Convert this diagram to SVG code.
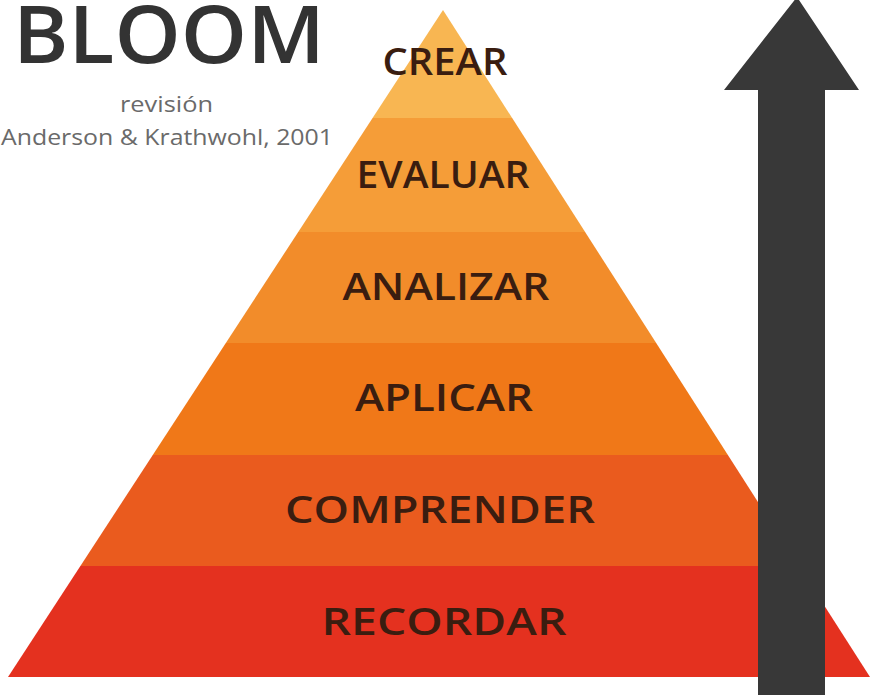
<svg xmlns="http://www.w3.org/2000/svg" width="871" height="695" viewBox="0 0 871 695">
<style>
.lbl{font-family:"Open Sans","Liberation Sans",sans-serif;font-weight:600;font-size:37px;fill:#3a1d10;text-anchor:middle}
.sub{font-family:"Open Sans","Liberation Sans",sans-serif;font-size:22px;fill:#6a6a6a}
</style>
<defs>
<clipPath id="pyr"><polygon points="443,10 870,677 8,677"/></clipPath>
</defs>
<rect width="871" height="695" fill="#ffffff"/>
<g id="title">
<text x="13" y="63" font-family="Open Sans, Liberation Sans, sans-serif" font-weight="600" font-size="79" fill="#333333" textLength="312" lengthAdjust="spacingAndGlyphs">BLOOM</text>
<text class="sub" x="120" y="112" textLength="93" lengthAdjust="spacingAndGlyphs">revisión</text>
<text class="sub" x="1" y="145" textLength="332" lengthAdjust="spacingAndGlyphs">Anderson &amp; Krathwohl, 2001</text>
</g>
<g clip-path="url(#pyr)">
<g id="crear"><rect x="0" y="0" width="871" height="118" fill="#F8B652"/></g>
<g id="evaluar"><rect x="0" y="118" width="871" height="114" fill="#F59D38"/></g>
<g id="analizar"><rect x="0" y="232" width="871" height="111" fill="#F28C2A"/></g>
<g id="aplicar"><rect x="0" y="343" width="871" height="112" fill="#F07818"/></g>
<g id="comprender"><rect x="0" y="455" width="871" height="111" fill="#EA5B1E"/></g>
<g id="recordar"><rect x="0" y="566" width="871" height="111" fill="#E4311F"/></g>
</g>
<g id="labels">
<text class="lbl" x="445" y="75" textLength="125" lengthAdjust="spacingAndGlyphs">CREAR</text>
<text class="lbl" x="443" y="188" textLength="173" lengthAdjust="spacingAndGlyphs">EVALUAR</text>
<text class="lbl" x="446" y="300" textLength="207" lengthAdjust="spacingAndGlyphs">ANALIZAR</text>
<text class="lbl" x="444" y="411" textLength="178" lengthAdjust="spacingAndGlyphs">APLICAR</text>
<text class="lbl" x="440" y="523" textLength="310" lengthAdjust="spacingAndGlyphs">COMPRENDER</text>
<text class="lbl" x="444" y="635" textLength="245" lengthAdjust="spacingAndGlyphs">RECORDAR</text>
</g>
<g id="arrow">
<polygon points="797,-3 859,90 825,90 825,695 758,695 758,90 724,90" fill="#383838"/>
</g>
</svg>
